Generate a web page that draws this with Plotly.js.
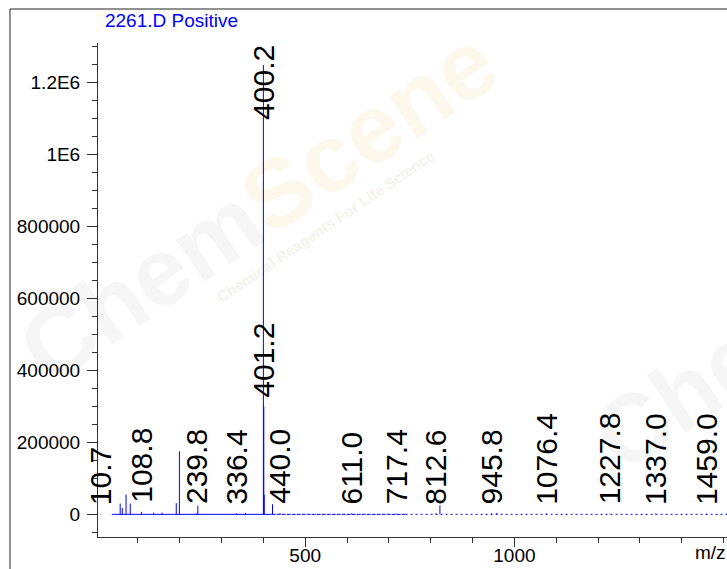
<!DOCTYPE html>
<html>
<head>
<meta charset="utf-8">
<script src="https://cdn.plot.ly/plotly-3.0.1.min.js"></script>
<style>html,body{margin:0;padding:0;background:#fff;}#chart{width:727px;height:569px;}</style>
</head>
<body>
<div id="chart"></div>
<script>
// ---- data ----
const peakMz = [10.7, 58, 63, 72, 82, 108.8, 138, 158, 192, 199.5, 239.8, 243.6, 336.4, 357,
  400.2, 401.2, 402.2, 422, 440.0, 611.0, 717.4, 812.6, 822, 945.8, 958, 1076.4, 1227.8, 1337.0, 1459.0];
const peakIntensity = [1500, 30000, 18000, 55000, 30000, 7000, 5000, 5000, 31000, 175000, 3000, 24000, 3000, 4000,
  1249000, 300000, 55000, 28000, 3000, 2500, 2000, 3000, 25000, 3000, 4000, 2500, 2000, 2000, 2000];
const labelMz = [10.7, 108.8, 239.8, 336.4, 400.2, 401.2, 440.0, 611.0, 717.4, 812.6, 945.8, 1076.4, 1227.8, 1337.0, 1459.0];
const labelText = ['10.7', '108.8', '239.8', '336.4', '400.2', '401.2', '440.0', '611.0', '717.4', '812.6', '945.8', '1076.4', '1227.8', '1337.0', '1459.0'];
const baseFrom = [38, 420, 740];
const baseTo = [420, 740, 1508];
const yTickVals = [0, 200000, 400000, 600000, 800000, 1000000, 1200000];
const yTickText = ['0', '200000', '400000', '600000', '800000', '1E6', '1.2E6'];
const xTickVals = [500, 1000];
const xTickText = ['500', '1000'];
const titleText = '2261.D Positive';
const xUnit = 'm/z';

// ---- build ----
const FONT = 'Arial, "Liberation Sans", sans-serif';
const BLUE = '#0000FF';
const xRange = [5, 1508];
const yRange = [-63000, 1310000];

const sx = [], sy = [];
peakMz.forEach((m, i) => { sx.push(m, m, null); sy.push(0, peakIntensity[i], null); });

const baseDash = ['solid', '4px,1px', '2px,3px'];
const traces = [];
baseFrom.forEach((f, i) => {
  traces.push({x: [f, baseTo[i]], y: [0, 0], type: 'scatter', mode: 'lines',
    line: {color: BLUE, width: 1, dash: baseDash[i]}, hoverinfo: 'skip', showlegend: false});
});
traces.push({x: sx, y: sy, type: 'scatter', mode: 'lines', line: {color: BLUE, width: 1},
  hoverinfo: 'skip', showlegend: false});

const minorY = [];
for (let v = -50000; v <= yRange[1]; v += 50000) minorY.push(v);
const minorX = [];
for (let v = 100; v <= xRange[1]; v += 100) minorX.push(v);

const annotations = [];
labelMz.forEach((m, i) => {
  const h = peakIntensity[peakMz.indexOf(m)] || 0;
  const clamp = h > 0.8 * yRange[1];
  annotations.push(clamp ? {
    x: m, xref: 'x', y: 1, yref: 'paper', yanchor: 'top', xanchor: 'center',
    text: labelText[i], textangle: -90, showarrow: false,
    font: {family: FONT, size: 30, color: '#000'}
  } : {
    x: m, xref: 'x', y: h, yref: 'y', yanchor: 'bottom', xanchor: 'center', yshift: 7,
    text: labelText[i], textangle: -90, showarrow: false,
    font: {family: FONT, size: 30, color: '#000'}
  });
});
annotations.push({x: 0.946, xref: 'paper', y: -0.032, yref: 'paper', xanchor: 'left', yanchor: 'middle',
  text: xUnit, showarrow: false, font: {family: FONT, size: 19, color: '#000'}});

// faint background watermark as an inline SVG (drawn below the data)
const wm = '<svg xmlns="http://www.w3.org/2000/svg" width="727" height="569" viewBox="0 0 727 569">' +
  '<g transform="translate(-165,-20) rotate(-34 360 230)" font-family="Arial, Liberation Sans, sans-serif" font-weight="bold">' +
  '<text x="140" y="295" font-size="96" fill="#f6f6f6">Chem<tspan fill="#fdf8ec">Scene</tspan></text>' +
  '<text x="330" y="322" font-size="15" fill="#f5f2ec">Chemical Reagents For Life Science</text></g>' +
  '<g transform="rotate(-34 680 400)" font-family="Arial, Liberation Sans, sans-serif" font-weight="bold">' +
  '<text x="590" y="430" font-size="96" fill="#f6f6f6">Chem</text></g></svg>';
const wmSrc = 'data:image/svg+xml;charset=utf-8,' + encodeURIComponent(wm);

const layout = {
  width: 727, height: 569,
  margin: {l: 98, r: 0, t: 43, b: 32, pad: 0},
  paper_bgcolor: '#fff', plot_bgcolor: 'rgba(0,0,0,0)',
  showlegend: false,
  title: {text: titleText, font: {family: FONT, size: 19, color: BLUE},
    x: 171.5 / 727, xanchor: 'center', xref: 'container', y: 1 - 20.5 / 569, yref: 'container', yanchor: 'middle'},
  xaxis: {range: xRange, showgrid: false, zeroline: false, showline: true, linecolor: '#333', linewidth: 1,
    ticks: 'outside', ticklen: 9, tickcolor: '#333', tickmode: 'array', tickvals: xTickVals, ticktext: xTickText,
    tickfont: {family: FONT, size: 19, color: '#000'}, ticklabelstandoff: -8,
    minor: {ticks: 'outside', ticklen: 5, tickcolor: '#333', tickmode: 'array', tickvals: minorX, showgrid: false}},
  yaxis: {range: yRange, showgrid: false, zeroline: false, showline: true, linecolor: '#333', linewidth: 1,
    ticks: 'outside', ticklen: 10, tickcolor: '#333', tickmode: 'array', tickvals: yTickVals, ticktext: yTickText,
    tickfont: {family: FONT, size: 19, color: '#000'}, ticklabelstandoff: 3,
    minor: {ticks: 'outside', ticklen: 5, tickcolor: '#333', tickmode: 'array', tickvals: minorY, showgrid: false}},
  images: [{source: wmSrc, xref: 'paper', yref: 'paper', x: -98 / 629, y: 1 + 43 / 494,
    sizex: 727 / 629, sizey: 569 / 494, sizing: 'stretch', xanchor: 'left', yanchor: 'top', layer: 'below'}],
  shapes: [{type: 'rect', xref: 'paper', yref: 'paper', x0: (10 - 98) / 629, x1: 1.05,
    y0: -0.2, y1: 1 + (43 - 9) / 494, line: {color: '#222', width: 1}, fillcolor: 'rgba(0,0,0,0)', layer: 'below'}],
  annotations: annotations
};

Plotly.newPlot('chart', traces, layout, {displayModeBar: false, staticPlot: true});
</script>
</body>
</html>
